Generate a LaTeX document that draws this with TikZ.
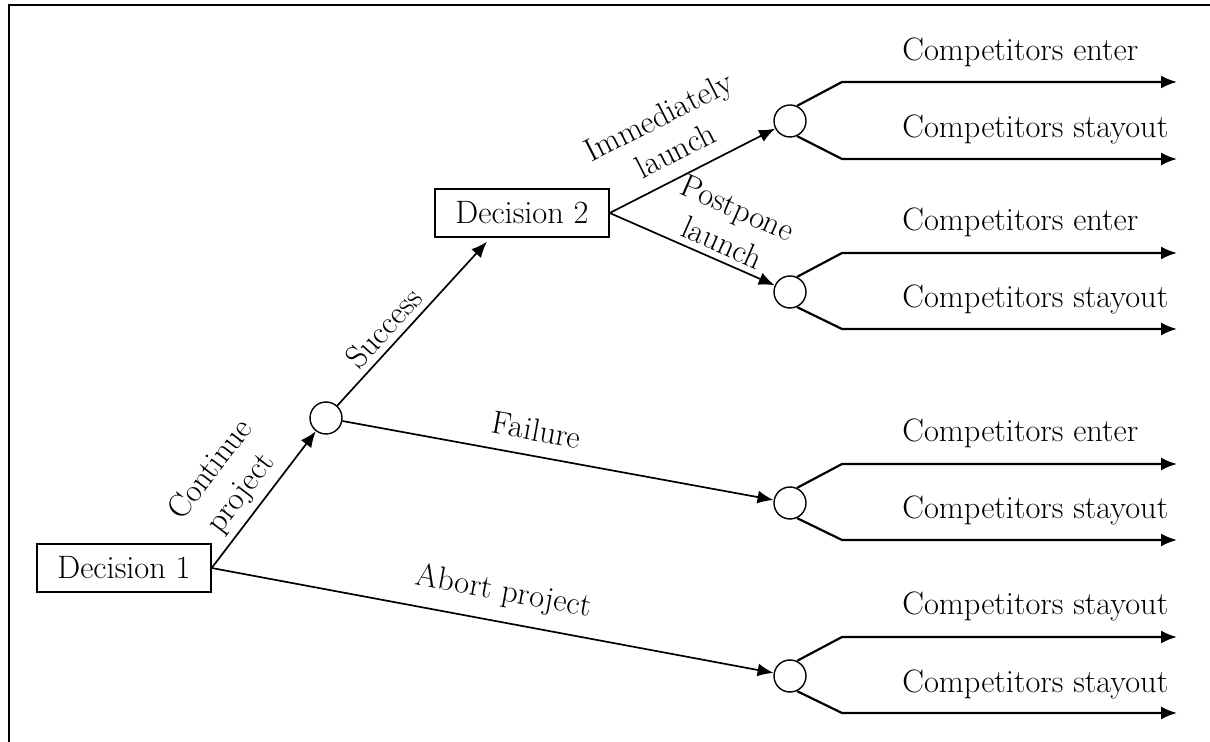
\documentclass[tikz,border=0pt]{standalone}
\usepackage{tikz}
\usetikzlibrary{positioning,arrows.meta}

\begin{document}
\begin{tikzpicture}[x=0.5pt, y=-0.5pt, >={Latex[length=8pt,width=6.5pt]},
    every node/.style={font=\fontsize{16.2}{19}\selectfont},
    decbox/.style={draw, line width=0.7pt, minimum width=87pt, minimum height=24pt, inner sep=0pt},
    chance/.style={draw, circle, line width=0.7pt, minimum size=16pt, inner sep=0pt},
    link/.style={->, line width=0.85pt},
    branch/.style={->, line width=1.1pt},
    outcome/.style={anchor=base west, inner sep=0pt},
    lbl/.style={sloped, above, align=center, inner sep=3pt}]

  \useasboundingbox (0,0) rectangle (1210,742);
  \draw[line width=1.2pt] (9,742) -- (9,5) -- (1210,5);

  % decisions and chance nodes
  \node[decbox] (d1) at (124,568) {Decision 1};
  \node[decbox] (d2) at (522,213) {Decision 2};
  \node[chance] (c1) at (326,418) {};
  \node[chance] (c2) at (790,121) {};
  \node[chance] (c3) at (790,292) {};
  \node[chance] (c4) at (790,503) {};
  \node[chance] (c5) at (790,676) {};

  \draw[link] (d1.east) -- node[lbl, pos=0.45]{Continue\\project} (c1);
  \draw[link] (d1.east) -- node[lbl, pos=0.51, above=4pt]{Abort project} (c5);
  \draw[link] (c1) -- node[lbl, pos=0.4]{Success} ([xshift=-17.5pt, yshift=-2pt]d2.south);
  \draw[link] (c1) -- node[lbl, pos=0.44, above=4pt]{Failure} (c4);
  \draw[link] (d2.east) -- node[lbl, pos=0.47, above=4pt]{Immediately\\launch} (c2);
  \draw[link] (d2.east) -- node[lbl, pos=0.64]{Postpone\\launch} (c3);

  % outcomes
  \node[outcome] (o1) at (902,61) {Competitors enter};
  \node[outcome] (o2) at (902,138) {Competitors stayout};
  \node[outcome] (o3) at (902,231) {Competitors enter};
  \node[outcome] (o4) at (902,308) {Competitors stayout};
  \node[outcome] (o5) at (902,442) {Competitors enter};
  \node[outcome] (o6) at (902,519) {Competitors stayout};
  \node[outcome] (o7) at (902,615) {Competitors stayout};
  \node[outcome] (o8) at (902,692) {Competitors stayout};

  \coordinate (e1) at (1177,82);
  \coordinate (e2) at (1177,159);
  \coordinate (e3) at (1177,253);
  \coordinate (e4) at (1177,329);
  \coordinate (e5) at (1177,464);
  \coordinate (e6) at (1177,540);
  \coordinate (e7) at (1177,637);
  \coordinate (e8) at (1177,713);

  \draw[branch] (c2.65) -- ([shift={(-335,0)}]e1) -- (e1);
  \draw[branch] (c2.-65) -- ([shift={(-335,0)}]e2) -- (e2);
  \draw[branch] (c3.65) -- ([shift={(-335,0)}]e3) -- (e3);
  \draw[branch] (c3.-65) -- ([shift={(-335,0)}]e4) -- (e4);
  \draw[branch] (c4.65) -- ([shift={(-335,0)}]e5) -- (e5);
  \draw[branch] (c4.-65) -- ([shift={(-335,0)}]e6) -- (e6);
  \draw[branch] (c5.65) -- ([shift={(-335,0)}]e7) -- (e7);
  \draw[branch] (c5.-65) -- ([shift={(-335,0)}]e8) -- (e8);
\end{tikzpicture}
\end{document}
